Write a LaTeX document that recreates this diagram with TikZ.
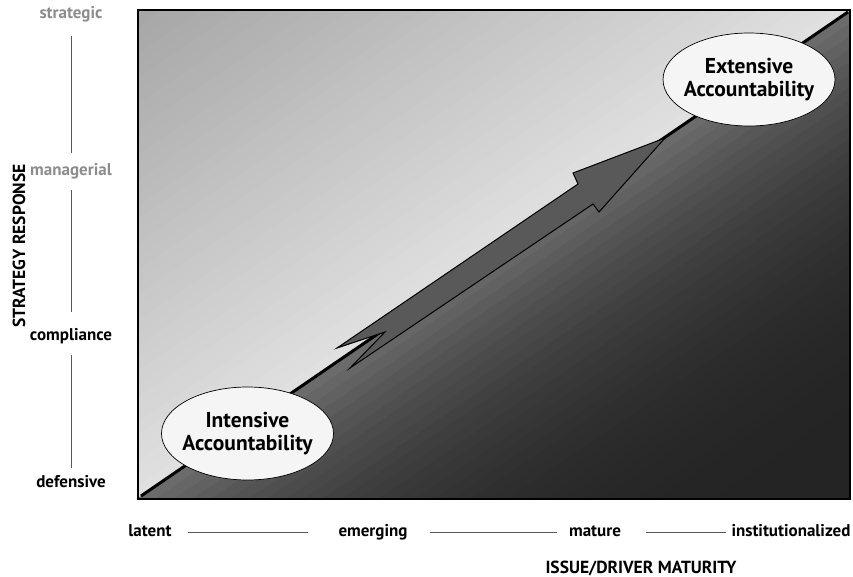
\documentclass[tikz,border=0pt]{standalone}
\usepackage{fontspec}
\setmainfont{PT Sans}
\usetikzlibrary{shapes.geometric}

\begin{document}
\begin{tikzpicture}[x=1pt,y=-1pt,
  axislabel/.style={inner sep=0pt, text height=12pt, text depth=4pt, font=\bfseries\fontsize{17}{19}\selectfont},
  mutedlabel/.style={axislabel, text=black!45},
  scaleline/.style={draw=black!65, line width=0.9pt},
  bubble/.style={ellipse, draw, line width=0.7pt, fill=black!4, minimum width=172pt, minimum height=93pt,
    inner xsep=-25pt, inner ysep=0pt, align=center, font=\bfseries\fontsize{21.5}{23}\selectfont},
  arrowbody/.style={draw, line width=1pt, fill=black!65, line join=miter},
  titlelabel/.style={font=\bfseries\fontsize{17.5}{20}\selectfont}]
\useasboundingbox (0,0) rectangle (853,577);

\coordinate (tl) at (138,10);
\coordinate (br) at (850,499);
\coordinate (low) at (141,496);
\coordinate (high) at (848,12);

% the field, in strips along the diagonal
\begin{scope}
\clip (tl) rectangle (br);
\begin{scope}[shift={(low)}, rotate=34.4]
\foreach \i in {0,...,39} {
  \pgfmathsetmacro\pl{12+24*(\i+0.5)/40}
  \pgfmathsetmacro\pd{86-29*(1-(\i+0.5)/40)^3}
  \fill[black!\pl] (-100,-\i*10.5) rectangle (960,-\i*10.5-11.5);
  \fill[black!\pd] (-100,\i*10.5) rectangle (960,\i*10.5+11.5);
}
\end{scope}
\end{scope}
\draw[line width=3pt] (low) -- (high);

% the arrow
\draw[arrowbody] (337,348) -- (578,184) -- (573,173) -- (665,138) -- (599,212) -- (593,204)
  -- (350,368) -- (385,332) -- cycle;

\draw[line width=2.4pt] (tl) rectangle (br);

\node[bubble] (intensive) at (247.5,433.5) {Intensive\\Accountability};
\node[bubble] (extensive) at (749,79.5) {Extensive\\Accountability};

% strategy response scale
\node[mutedlabel] (strategic) at (71,15) {strategic};
\node[mutedlabel] (managerial) at (71,172) {managerial};
\node[axislabel] (compliance) at (71,336) {compliance};
\node[axislabel] (defensive) at (71,483) {defensive};
\draw[scaleline, shorten <=13pt, shorten >=11pt] (strategic) -- (managerial);
\draw[scaleline, shorten <=10pt, shorten >=16pt] (managerial) -- (compliance);
\draw[scaleline, shorten <=11pt, shorten >=7pt] (compliance) -- (defensive);
\node[titlelabel, rotate=90] (response) at (19,246) {STRATEGY RESPONSE};

% issue maturity scale
\node[axislabel] (latent) at (150,532) {latent};
\node[axislabel] (emerging) at (373,532) {emerging};
\node[axislabel] (mature) at (595,532) {mature};
\node[axislabel] (institutionalized) at (791,532) {institutionalized};
\draw[scaleline, shorten <=16pt, shorten >=30pt] (latent) -- (emerging);
\draw[scaleline, shorten <=22pt, shorten >=12pt] (emerging) -- (mature);
\draw[scaleline, shorten <=25pt, shorten >=5pt] (mature) -- (institutionalized);
\node[titlelabel] (maturity) at (641,568) {ISSUE/DRIVER MATURITY};

\end{tikzpicture}
\end{document}
